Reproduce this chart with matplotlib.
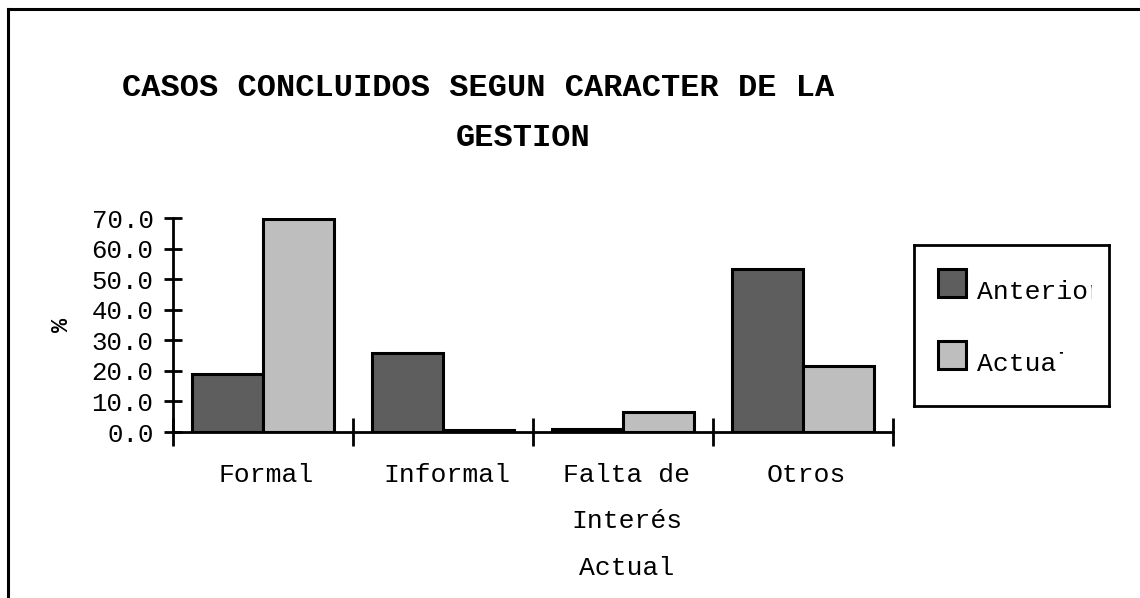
import matplotlib
matplotlib.use("Agg")
import matplotlib.pyplot as plt
from matplotlib.lines import Line2D
from matplotlib.patches import Rectangle
from matplotlib.transforms import Bbox
import numpy as np

categories = ["Formal", "Informal", "Falta de\nInterés\nActual", "Otros"]
anterior = [18.9, 26.0, 1.0, 53.2]
actual = [69.7, 0.8, 6.5, 21.5]
series_names = ["Anterior", "Actual"]
yticks = [0, 10, 20, 30, 40, 50, 60, 70]

FONT = "Liberation Mono"
dark = "#5e5e5e"
light = "#bebebe"

fig = plt.figure(figsize=(11.4, 5.98), dpi=100)
W, H = 1140, 598

def fx(px):
    return px / W

def fy(py):
    return 1 - py / H

ax = fig.add_axes([fx(173), fy(432), fx(893) - fx(173), fy(218) - fy(432)])
x = np.arange(len(categories)) + 0.5
bw = 0.395
ax.bar(x - bw / 2, anterior, width=bw, color=dark, edgecolor="black", linewidth=2.2)
ax.bar(x + bw / 2, actual, width=bw, color=light, edgecolor="black", linewidth=2.2)

ax.set_xlim(0, 4)
ax.set_ylim(0, 70)
for s in ["top", "right"]:
    ax.spines[s].set_visible(False)
ax.spines["left"].set_linewidth(2)
ax.spines["bottom"].set_linewidth(2)
ax.set_yticks(yticks)
ax.set_yticklabels([f"{v:.1f}" for v in yticks], fontfamily=FONT, fontsize=18.5)
ax.tick_params(axis="y", direction="inout", length=13, width=2, pad=7.5)
ax.set_xticks([0, 1, 2, 3, 4])
ax.set_xticklabels([])
ax.tick_params(axis="x", direction="inout", length=20, width=2)
for xi, lab in zip(x, categories):
    ax.text(xi + 0.02, -10.0, lab, ha="center", va="top", fontfamily=FONT,
            fontsize=19, linespacing=2.2, transform=ax.transData, clip_on=False)

fig.text(fx(62), fy(325), "%", rotation=90, ha="center", va="center",
         fontfamily=FONT, fontsize=17, fontweight="bold")

fig.text(fx(478), fy(88), "CASOS CONCLUIDOS SEGUN CARACTER DE LA", ha="center",
         va="center", fontfamily=FONT, fontsize=23, fontweight="bold")
fig.text(fx(523), fy(138), "GESTION", ha="center", va="center",
         fontfamily=FONT, fontsize=23, fontweight="bold")

# legend box drawn manually
lax = fig.add_axes([fx(914), fy(406), fx(1109) - fx(914), fy(245) - fy(406)])
lax.set_xlim(914, 1109)
lax.set_ylim(406, 245)
lax.set_xticks([])
lax.set_yticks([])
for s in lax.spines.values():
    s.set_linewidth(2)
for name, col, yc, cx in zip(series_names, [dark, light], [283, 355], [1092, 1063]):
    lax.add_patch(Rectangle((938, yc - 14), 28, 28, facecolor=col,
                            edgecolor="black", linewidth=2.2))
    t = lax.text(977, yc + 9, name, ha="left", va="center", fontfamily=FONT,
                 fontsize=19)
    t.set_clip_on(True)
    t.set_clip_path(None)
    t.set_clip_box(Bbox([[914, H - 406], [cx, H - 245]]))

# outer frame (left and top)
fig.add_artist(Line2D([fx(8), fx(8)], [fy(9), 0], color="black", linewidth=2.2))
fig.add_artist(Line2D([fx(8), 1], [fy(9), fy(9)], color="black", linewidth=2.2))

fig.savefig("out.png", dpi=100, facecolor="white")
